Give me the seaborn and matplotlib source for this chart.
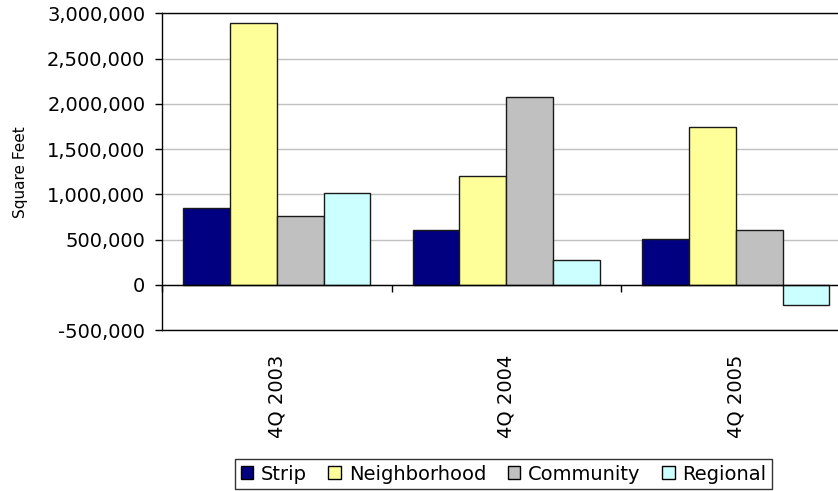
import matplotlib
matplotlib.use("Agg")
import matplotlib.pyplot as plt
import matplotlib.ticker as mticker
from matplotlib.patches import Patch
import pandas as pd
import seaborn as sns

# Net absorption by shopping-center type, fourth quarter of each year
quarters = ["4Q 2003", "4Q 2004", "4Q 2005"]
center_types = ["Strip", "Neighborhood", "Community", "Regional"]
strip = [850000, 600000, 510000]
neighborhood = [2890000, 1205000, 1745000]
community = [755000, 2070000, 600000]
regional = [1015000, 270000, -220000]
type_colors = ["#000080", "#FFFF99", "#C0C0C0", "#CCFFFF"]
y_ticks = [-500000, 0, 500000, 1000000, 1500000, 2000000, 2500000, 3000000]

series = {"Strip": strip, "Neighborhood": neighborhood,
          "Community": community, "Regional": regional}
rows = []
for name in center_types:
    for q, v in zip(quarters, series[name]):
        rows.append({"Quarter": q, "Type": name, "SqFt": v})
df = pd.DataFrame(rows)

sns.set_style("white")
plt.rcParams["font.family"] = ["DejaVu Sans"]
plt.rcParams["text.color"] = "black"
plt.rcParams["axes.labelcolor"] = "black"
plt.rcParams["xtick.color"] = "black"
plt.rcParams["ytick.color"] = "black"

fig = plt.figure(figsize=(8.38, 4.91), dpi=100)
ax = fig.add_axes([162 / 838, 1 - 330 / 491, (850.5 - 162) / 838, (330 - 13.3) / 491])

sns.barplot(data=df, x="Quarter", y="SqFt", hue="Type", order=quarters,
            hue_order=center_types, palette=type_colors, width=0.815,
            edgecolor="#1a1a1a", linewidth=1.0, saturation=1, legend=False,
            ax=ax, zorder=3)

ax.set_xlim(-0.5, 2.5)
ax.set_ylim(y_ticks[0], y_ticks[-1])
ax.set_yticks(y_ticks)
ax.yaxis.set_major_formatter(mticker.FuncFormatter(lambda v, p: f"{int(v):,}"))
ax.yaxis.grid(True, color="#c0c0c0", linewidth=1.0, zorder=0)
ax.set_axisbelow(True)
ax.axhline(0, color="black", linewidth=1.0, zorder=4)

for side in ["left", "top", "right", "bottom"]:
    ax.spines[side].set_visible(True)
    ax.spines[side].set_color("black")
    ax.spines[side].set_linewidth(1.0)

ax.tick_params(axis="y", direction="out", length=5, width=1, color="black",
               labelsize=14, pad=7, left=True, labelcolor="black")
ax.tick_params(axis="x", length=0, labelsize=14, pad=18, labelcolor="black")
for lbl in ax.get_xticklabels():
    lbl.set_rotation(90)
    lbl.set_va("top")
    lbl.set_ha("center")

ax.set_xlabel("")
ax.set_ylabel("Square Feet", fontsize=11, labelpad=14, color="black")

# Category divider ticks hanging below the zero line
ax_zero = ax.twiny()
ax_zero.set_xlim(ax.get_xlim())
ax_zero.spines["bottom"].set_position(("data", 0))
for side in ["left", "top", "right", "bottom"]:
    ax_zero.spines[side].set_visible(False)
ax_zero.xaxis.set_ticks_position("bottom")
ax_zero.set_xticks([-0.5, 0.5, 1.5, 2.5])
ax_zero.tick_params(axis="x", direction="out", length=5, width=1,
                    color="black", labelbottom=False, labeltop=False, top=False)
for t in ax_zero.xaxis.get_major_ticks():
    t.tick1line.set_clip_on(False)

handles = [Patch(facecolor=c, edgecolor="black", linewidth=1.0)
           for c in type_colors]
leg = fig.legend(handles, center_types, loc="center",
                 bbox_to_anchor=(503.5 / 838, 1 - 474 / 491), ncol=4,
                 fontsize=14, frameon=True, fancybox=False, edgecolor="black",
                 handlelength=0.65, handleheight=0.65, handletextpad=0.4,
                 columnspacing=1.1, borderpad=0.3, borderaxespad=0)
leg.get_frame().set_linewidth(1.0)

fig.savefig("out.png", dpi=100)
